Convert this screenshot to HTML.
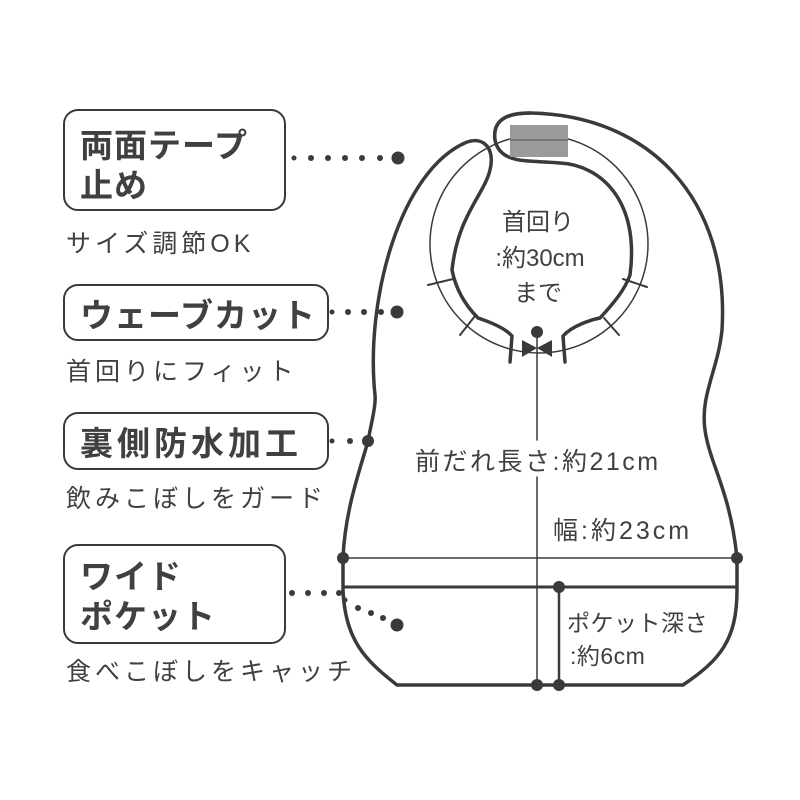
<!DOCTYPE html>
<html><head><meta charset="utf-8"><style>
html,body{margin:0;padding:0;background:#fff;width:800px;height:800px;overflow:hidden}
svg text{font-family:"Liberation Sans","Noto Sans CJK JP",sans-serif;fill:#404040}
</style></head><body>
<svg width="800" height="800" viewBox="0 0 800 800" xmlns="http://www.w3.org/2000/svg">
<g fill="none" stroke="#3a3a3a" stroke-linecap="round" stroke-linejoin="round">
<rect x="64" y="110" width="221" height="100" rx="14" stroke-width="2"/>
<rect x="64" y="285" width="264" height="55" rx="14" stroke-width="2"/>
<rect x="64" y="413" width="264" height="56" rx="14" stroke-width="2"/>
<rect x="64" y="545" width="221" height="98" rx="14" stroke-width="2"/>
<circle cx="539" cy="244" r="109" stroke-width="1.5"/>
<path stroke-width="3.5" d="M 368,441 C 372,420 376,405 375,395 C 365,300 400,170 467,142 C 485,136 495,150 490,170 C 484,195 458,215 452,270
 C 456,290 465,305 478,318 C 490,322 505,328 512,336 L 510,362"/>
<path stroke-width="3.5" d="M 565,362 L 563,336 C 572,326 590,320 600,318 C 612,305 625,290 630,275
 C 640,200 600,165 560,163 C 530,160 500,165 495,140 C 492,118 510,113 530,113 C 650,115 730,200 722,330 C 718,370 700,395 705,430 C 710,465 730,490 737,558 L 737,590 C 737,640 720,660 683,685 L 397,685 C 365,660 345,640 343,590 L 343,558 C 345,510 360,470 368,441"/>
<g stroke-width="2">
<line x1="428" y1="285" x2="453" y2="279"/>
<line x1="460" y1="335" x2="475" y2="316"/>
<line x1="647" y1="287" x2="623" y2="279"/>
<line x1="619" y1="335" x2="604" y2="318"/>
</g>
<line x1="537" y1="332" x2="537" y2="440" stroke-width="1.5"/>
<line x1="537" y1="477" x2="537" y2="685" stroke-width="1.5"/>
<line x1="343" y1="558" x2="737" y2="558" stroke-width="1.5"/>
<line x1="343" y1="587" x2="737" y2="587" stroke-width="3"/>
<line x1="559" y1="587" x2="559" y2="685" stroke-width="2.5"/>
</g>
<rect x="510" y="125" width="58" height="32" fill="#9a9a9c"/>
<path d="M 495,140 C 492,118 510,113 530,113" fill="none" stroke="#3a3a3a" stroke-width="3.5"/>
<line x1="510" y1="140" x2="568" y2="140" stroke="#3a3a3a" stroke-width="1.3" opacity="0.6"/>
<path d="M 522,340 L 537,348 L 522,357 Z M 552,340 L 537,348 L 552,357 Z" fill="#3a3a3a"/>
<g fill="#3a3a3a">
<circle cx="537" cy="332" r="6"/>
<circle cx="343" cy="558" r="6"/><circle cx="737" cy="558" r="6"/>
<circle cx="559" cy="587" r="6"/>
<circle cx="537" cy="685" r="6"/><circle cx="559" cy="685" r="6"/>
<circle cx="398" cy="158" r="6.5"/><circle cx="397" cy="312" r="6.5"/>
<circle cx="368" cy="441" r="6"/><circle cx="397" cy="625" r="6.5"/>
<circle cx="294" cy="158" r="2.5"/><circle cx="311" cy="158" r="3"/><circle cx="328" cy="158" r="3"/><circle cx="345" cy="158" r="3"/><circle cx="362" cy="158" r="3"/><circle cx="380" cy="158" r="3"/>
<circle cx="332" cy="312" r="2.5"/><circle cx="348" cy="312" r="3"/><circle cx="364" cy="312" r="3"/><circle cx="381" cy="312" r="3"/>
<circle cx="332" cy="441" r="2.5"/><circle cx="350" cy="441" r="3"/>
<circle cx="292" cy="593" r="3"/><circle cx="308" cy="593" r="3"/><circle cx="324" cy="593" r="3"/><circle cx="339" cy="593" r="3"/>
<circle cx="345" cy="600" r="2.5"/><circle cx="358" cy="608" r="3"/><circle cx="371" cy="613" r="3"/><circle cx="383" cy="618" r="3"/>
</g>
<g font-size="33" font-weight="bold" letter-spacing="1">
<text x="80" y="157">両面テープ</text>
<text x="80" y="197">止め</text>
<text x="80" y="327">ウェーブカット</text>
<text x="80" y="455" letter-spacing="4">裏側防水加工</text>
<text x="80" y="588">ワイド</text>
<text x="80" y="628">ポケット</text>
</g>
<g font-size="25" letter-spacing="4">
<text x="66" y="252">サイズ調節OK</text>
<text x="66" y="380">首回りにフィット</text>
<text x="66" y="507">飲みこぼしをガード</text>
<text x="66" y="680">食べこぼしをキャッチ</text>
</g>
<g font-size="24" text-anchor="middle">
<text x="538" y="230">首回り</text>
<text x="540" y="266">:約30cm</text>
<text x="538" y="301">まで</text>
</g>
<text x="415" y="470" font-size="25" letter-spacing="2.5">前だれ長さ:約21cm</text>
<text x="553" y="539" font-size="25" letter-spacing="3">幅:約23cm</text>
<text x="567" y="631" font-size="23" letter-spacing="0.5">ポケット深さ</text>
<text x="570" y="664" font-size="23" letter-spacing="0.5">:約6cm</text>
</svg>
</body></html>
